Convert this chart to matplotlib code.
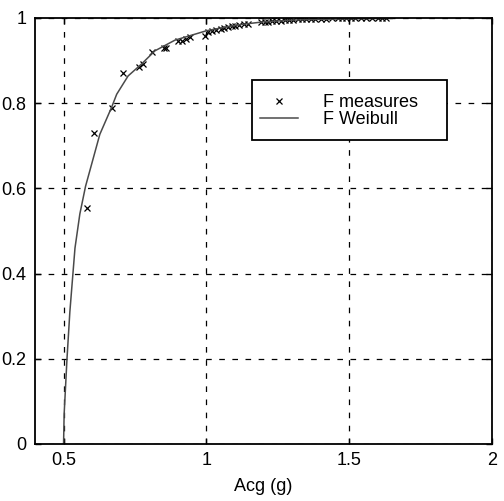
import matplotlib.pyplot as plt
from matplotlib.patches import Rectangle

plt.rcParams["font.family"] = ["Liberation Sans", "DejaVu Sans"]
plt.rcParams["font.size"] = 13

# Measured cumulative frequencies
acg_meas = [0.583, 0.606, 0.670, 0.709, 0.764, 0.779, 0.808, 0.853, 0.858,
            0.901, 0.916, 0.930, 0.942, 0.994, 1.006,
            1.020, 1.035, 1.050, 1.060, 1.075, 1.090, 1.100, 1.115, 1.130, 1.145,
            1.190, 1.205, 1.215, 1.230, 1.245, 1.260, 1.275,
            1.290, 1.305, 1.320, 1.335, 1.350, 1.365, 1.380, 1.400, 1.420, 1.440,
            1.460, 1.475, 1.490, 1.505, 1.520, 1.540, 1.560, 1.580, 1.600, 1.615, 1.630]
F_meas = [0.554, 0.729, 0.788, 0.871, 0.886, 0.893, 0.921, 0.929, 0.930,
          0.947, 0.947, 0.950, 0.956, 0.957, 0.967,
          0.970, 0.972, 0.975, 0.977, 0.979, 0.981, 0.982, 0.984, 0.985, 0.986,
          0.990, 0.990, 0.991, 0.992, 0.993, 0.994, 0.995,
          0.996, 0.996, 0.997, 0.997, 0.997, 0.998, 0.998, 0.998, 0.998, 0.999,
          0.999, 0.999, 0.999, 0.999, 0.999, 1.000, 1.000, 1.000, 1.000, 1.000, 1.000]

# Fitted Weibull CDF
acg_fit = [0.500, 0.502, 0.512, 0.522, 0.540, 0.557, 0.577, 0.627, 0.668, 0.686,
           0.726, 0.773, 0.820, 0.890, 1.000, 1.100, 1.200, 1.300, 1.400, 1.500, 1.650]
F_fit = [0.000, 0.070, 0.200, 0.310, 0.460, 0.540, 0.605, 0.727, 0.790, 0.821,
         0.864, 0.892, 0.923, 0.948, 0.970, 0.983, 0.991, 0.995, 0.997, 0.998, 0.999]

fig = plt.figure(figsize=(5.04, 5.01), dpi=100)
ax = fig.add_axes([35 / 504, 57 / 501, 457 / 504, 426 / 501])

ax.plot(acg_meas, F_meas, "kx", ms=5, mew=0.9, label="F measures")
ax.plot(acg_fit, F_fit, "-", color="#4a4a4a", lw=1.1, label="F Weibull")

ax.set_xlim(0.4, 2)
ax.set_ylim(0, 1)
ax.set_xticks([0.5, 1, 1.5, 2])
ax.set_xticklabels(["0.5", "1", "1.5", "2"])
ax.set_yticks([0, 0.2, 0.4, 0.6, 0.8, 1])
ax.set_yticklabels(["0", "0.2", "0.4", "0.6", "0.8", "1"])
ax.tick_params(direction="in", length=4, width=1, top=True, right=True, pad=6)
ax.grid(True, color="k", ls=(0, (4.5, 6)), lw=0.9)
for s in ax.spines.values():
    s.set_linewidth(1.3)
ax.set_xlabel("Acg (g)", labelpad=6)

leg = ax.legend(loc="upper left", bbox_to_anchor=(0.475, 0.84), frameon=False,
                numpoints=1, handlelength=2.1, handletextpad=1.4, fontsize=13,
                labelspacing=0.0, borderpad=0, borderaxespad=0.45)
ax.add_patch(Rectangle((0.475, 0.714), 0.427, 0.14, transform=ax.transAxes,
                       fill=True, facecolor="white", edgecolor="k", lw=1.3, zorder=4))
leg.set_zorder(5)

fig.savefig("out.png", dpi=100)
